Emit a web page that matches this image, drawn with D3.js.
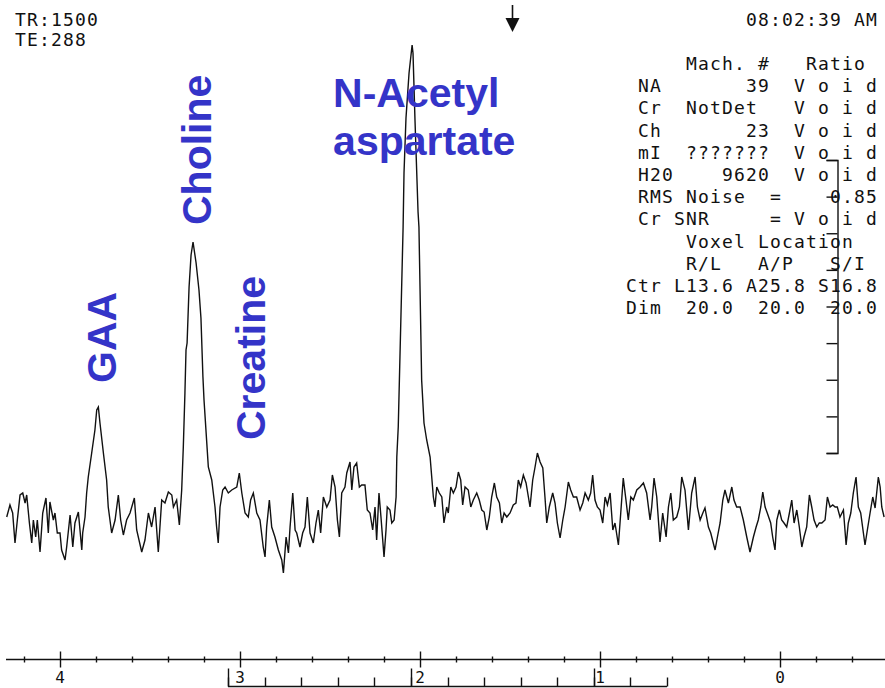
<!DOCTYPE html>
<html lang="en">
<head>
  <meta charset="utf-8">
  <title>MR spectrum</title>
  <script src="https://d3js.org/d3.v7.min.js"></script>
  <style>
    body { margin: 0; background: #fff; }
    .mono { font-family: "DejaVu Sans Mono", monospace; font-size: 18px; fill: #111; white-space: pre; letter-spacing: 1.16px; }
    .axlab { font-family: "DejaVu Sans Mono", monospace; font-size: 16px; fill: #111; }
    .peak { font-family: "Liberation Sans", Arial, sans-serif; font-weight: bold; font-size: 41px; fill: #3434c8; }
  </style>
</head>
<body>
<div id="chart"></div>
<script>
// chemical shift (ppm) of each plotted point
var shift = [
  4.296,4.278,4.263,4.250,4.237,4.222,4.207,4.194,4.185,4.170,
  4.157,4.148,4.135,4.126,4.111,4.096,4.078,4.065,4.056,4.037,
  4.028,4.015,4.000,3.991,3.972,3.963,3.944,3.929,3.917,3.898,
  3.879,3.874,3.861,3.852,3.843,3.824,3.806,3.796,3.787,3.778,
  3.759,3.741,3.732,3.713,3.694,3.676,3.663,3.648,3.630,3.611,
  3.587,3.574,3.546,3.528,3.509,3.491,3.472,3.454,3.435,3.417,
  3.398,3.379,3.370,3.352,3.337,3.324,3.315,3.306,
  3.300,3.294,3.283,3.272,3.261,3.244,3.228,3.217,3.206,3.200,
  3.176,3.157,3.139,3.130,3.121,3.111,3.096,3.083,3.065,3.046,
  3.018,3.004,2.990,2.972,2.954,2.941,2.926,2.907,2.889,2.871,
  2.861,2.852,2.837,2.824,2.806,2.787,2.768,2.759,
  2.744,2.731,2.722,2.707,2.694,2.685,2.667,2.652,2.639,2.626,
  2.611,2.593,2.578,2.565,2.552,2.537,2.518,2.500,2.487,2.472,
  2.459,2.448,2.435,2.417,2.407,2.389,2.379,2.367,2.352,2.337,
  2.324,2.306,2.293,2.278,2.263,2.250,2.241,2.228,2.217,2.200,
  2.189,2.182,2.167,2.157,2.144,2.133,2.129,2.121,
  2.094,2.089,2.078,2.061,2.044,2.039,2.028,2.011,2.006,
  1.991,1.978,1.963,1.944,1.935,1.926,1.917,1.907,1.893,1.879,
  1.867,1.852,1.843,1.829,1.815,1.800,1.787,1.774,1.763,1.750,
  1.732,1.718,1.704,1.685,1.671,1.657,1.644,1.629,1.615,1.602,
  1.587,1.574,1.559,1.546,1.533,1.518,1.500,1.482,1.467,1.454,
  1.441,1.426,1.411,1.398,1.389,1.374,1.361,1.348,1.333,1.318,
  1.306,1.296,1.282,1.263,1.250,1.237,1.222,1.207,1.194,1.176,
  1.163,1.148,1.130,1.111,
  1.096,1.083,1.065,1.052,1.041,1.028,1.015,1.000,0.985,0.972,
  0.959,0.944,0.929,0.917,0.898,0.885,0.871,0.856,0.843,0.829,
  0.815,0.796,0.778,0.759,0.741,0.722,0.713,0.700,0.685,0.667,
  0.652,0.633,0.620,0.607,0.593,0.574,0.559,0.546,0.528,0.509,
  0.491,0.472,0.459,0.444,0.429,0.417,0.398,0.385,0.371,0.361,
  0.348,0.333,0.318,0.306,0.287,0.268,0.256,0.241,0.222,0.204,
  0.185,0.167,0.148,0.133,0.121,0.107,0.096,0.083,0.071,0.052,
  0.041,0.028,0.018,0.004,-0.009,-0.022,-0.037,-0.052,-0.065,-0.078,
  -0.093,-0.107,-0.121,-0.133,-0.148,-0.163,-0.176,-0.189,-0.204,-0.218,
  -0.232,-0.250,-0.263,-0.278,-0.293,-0.306,-0.318,-0.333,-0.352,-0.367,
  -0.379,-0.393,-0.407,-0.422,-0.435,-0.448,-0.463,-0.472,-0.485,-0.500,
  -0.515,-0.528,-0.546,-0.556,-0.565,-0.578
];

// signal intensity (arbitrary units) at each shift
var signal = [
  3,15,7,-23,0,25,27,17,25,-3,
  -23,0,-17,0,-32,7,22,-13,18,0,
  7,-13,-13,-30,-40,-27,5,-27,-3,8,
  -30,-13,3,27,43,67,90,110,113,97,
  67,40,13,-13,0,25,0,-15,0,7,
  22,-10,-32,-20,7,-7,13,-32,20,17,
  28,25,13,20,-5,30,73,127,
  170,177,233,265,278,257,230,202,143,120,
  53,40,13,-7,-23,13,30,33,27,30,
  33,47,27,7,3,20,27,7,0,-27,
  -37,-7,20,-7,-17,-30,-40,-53,
  -17,-33,-7,27,-10,-13,-27,-13,-7,23,
  -13,-23,-3,10,-13,23,13,20,45,33,
  0,-17,27,33,47,58,30,53,57,33,
  35,35,10,7,-10,13,-20,27,3,-37,
  -10,13,10,-3,0,23,63,93,
  293,347,402,447,475,467,400,308,293,
  140,97,80,63,43,23,13,33,27,23,
  -3,13,7,33,27,33,48,40,15,33,
  30,13,20,27,20,10,8,-10,3,23,
  37,23,17,-3,7,3,7,15,17,40,
  33,45,37,23,13,40,53,67,58,52,
  23,-3,13,27,17,-3,-18,0,13,38,
  30,23,23,10,
  17,27,20,27,45,20,13,10,-3,23,
  15,27,-10,-3,-25,7,42,20,0,23,
  20,30,33,37,27,0,13,42,23,-22,
  7,-17,13,27,0,3,13,43,30,-10,
  27,43,13,0,7,12,-7,-13,-23,-30,
  -17,-3,20,30,17,33,20,13,13,0,
  -17,-32,-17,-7,0,13,28,13,7,-3,
  -17,-30,0,10,0,-3,-7,7,20,-3,
  10,-7,-27,-17,-7,25,13,0,-7,-3,
  -3,0,23,13,15,13,13,3,10,-25,
  -3,7,27,43,13,7,-13,-25,-10,7,
  23,12,43,33,13,3
];

var axisTicks = [4, 3, 2, 1, 0];
var rulerTicks = [3, 2, 1];
var headerLines = ["TR:1500", "TE:288"];
var clockText = "08:02:39 AM";
var tableRows = [
  "Mach. #   Ratio ",
  "NA       39  V o i d",
  "Cr  NotDet   V o i d",
  "Ch       23  V o i d",
  "mI  ???????  V o i d",
  "H20    9620  V o i d",
  "RMS Noise  =    0.85",
  "Cr SNR     = V o i d",
  "Voxel Location  ",
  "R/L   A/P   S/I ",
  "Ctr L13.6 A25.8 S16.8",
  "Dim  20.0  20.0  20.0"
];
var peakNames = ["GAA", "Choline", "Creatine", "N-Acetyl", "aspartate"];

var W = 885, H = 688;
var svg = d3.select("#chart").append("svg")
  .attr("width", W).attr("height", H);

var x = d3.scaleLinear().domain([4.3, -0.583]).range([6, 885]);
var y = d3.scaleLinear().domain([0, 480]).range([520, 40]);
var ruler = d3.scaleLinear().domain([3, 0.6]).range([228, 667]);

// spectrum trace
var pts = shift.map((s, i) => [s, signal[i]]);
svg.append("path")
  .datum(pts)
  .attr("fill", "none")
  .attr("stroke", "#111")
  .attr("stroke-width", 1.4)
  .attr("stroke-linejoin", "miter")
  .attr("d", d3.line().x(d => x(d[0])).y(d => y(d[1])));

// ppm axis
var axY = 659.5;
var ax = svg.append("g").attr("stroke", "#111").attr("stroke-width", 1.4);
ax.append("line").attr("x1", x(4.3)).attr("x2", x(-0.583)).attr("y1", axY).attr("y2", axY);
var minor = d3.range(-2, 22).filter(i => i % 5 !== 0).map(i => i / 5);
ax.selectAll(".mn").data(minor).enter().append("line")
  .attr("x1", d => Math.round(x(d)) + 0.5).attr("x2", d => Math.round(x(d)) + 0.5)
  .attr("y1", axY - 3).attr("y2", axY + 3);
ax.selectAll(".mj").data(axisTicks).enter().append("line")
  .attr("x1", d => Math.round(x(d)) + 0.5).attr("x2", d => Math.round(x(d)) + 0.5)
  .attr("y1", axY - 8).attr("y2", axY + 8);
svg.selectAll(".axlab").data(axisTicks).enter().append("text")
  .attr("class", "axlab")
  .attr("x", d => x(d)).attr("y", 683)
  .attr("text-anchor", "middle")
  .text(d => d);

// bracket ruler under the axis
var rY = 686.5;
var rg = svg.append("g").attr("stroke", "#111").attr("stroke-width", 1.4);
rg.append("line").attr("x1", ruler(3)).attr("x2", ruler(0.6)).attr("y1", rY).attr("y2", rY);
var rMinor = d3.range(3, 16).map(i => i / 5);
rg.selectAll(".rm").data(rMinor).enter().append("line")
  .attr("x1", d => Math.round(ruler(d)) + 0.5).attr("x2", d => Math.round(ruler(d)) + 0.5)
  .attr("y1", rY - 9).attr("y2", rY);
rg.selectAll(".rj").data(rulerTicks).enter().append("line")
  .attr("x1", d => Math.round(ruler(d)) + 0.5).attr("x2", d => Math.round(ruler(d)) + 0.5)
  .attr("y1", rY - 18).attr("y2", rY);

// vertical scale bar
var vbar = d3.scaleLinear().domain([0, 8]).range([453, 160]);
svg.append("g")
  .attr("transform", "translate(837.5,0)")
  .call(d3.axisLeft(vbar).ticks(8).tickSize(11).tickFormat(""))
  .call(g => g.selectAll("path,line").attr("stroke", "#111").attr("stroke-width", 1.4));

// marker arrow
var ax0 = Math.round(x(1.489)) + 0.5;
svg.append("line").attr("x1", ax0).attr("x2", ax0).attr("y1", 5).attr("y2", 20)
  .attr("stroke", "#111").attr("stroke-width", 1.6);
svg.append("path")
  .attr("d", "M" + (ax0 - 7) + ",18L" + (ax0 + 7) + ",18L" + ax0 + ",32Z")
  .attr("fill", "#111");

// header text
svg.selectAll(".hdr").data(headerLines).enter().append("text")
  .attr("class", "mono")
  .attr("x", 15).attr("y", (d, i) => 26 + i * 20)
  .text(d => d);

var cw = 12, rightEdge = 878;
svg.append("text").attr("class", "mono")
  .attr("x", rightEdge - cw * clockText.length).attr("y", 26)
  .text(clockText);

svg.selectAll(".row").data(tableRows).enter().append("text")
  .attr("class", "mono")
  .attr("x", d => rightEdge - cw * d.length)
  .attr("y", (d, i) => 70 + i * 22.2)
  .text(d => d);

// peak labels
function vlabel(name, ppm, v) {
  svg.append("text").attr("class", "peak")
    .attr("transform", "translate(" + x(ppm) + "," + y(v) + ") rotate(-90)")
    .text(name);
}
vlabel(peakNames[0], 3.689, 137);
vlabel(peakNames[1], 3.161, 295);
vlabel(peakNames[2], 2.861, 80);
svg.append("text").attr("class", "peak").attr("x", x(2.483)).attr("y", y(413)).text(peakNames[3]);
svg.append("text").attr("class", "peak").attr("x", x(2.483)).attr("y", y(365)).text(peakNames[4]);
</script>
</body>
</html>
